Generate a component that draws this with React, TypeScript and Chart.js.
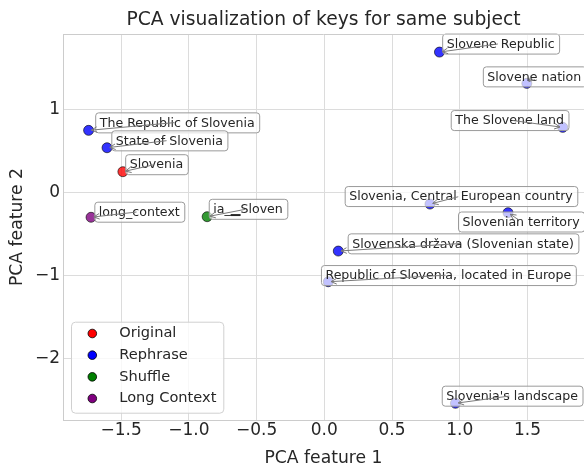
import React, { useEffect, useRef } from "react";
import { Chart, registerables } from "chart.js";

Chart.register(...registerables);

// ---------------- data ----------------
const seriesNames = ["Original", "Rephrase", "Shuffle", "Long Context"];
const seriesColors = ["#ff0000", "#0000ff", "#008000", "#800080"];
const seriesFill = ["rgba(255,0,0,0.8)", "rgba(0,0,255,0.8)", "rgba(0,128,0,0.8)", "rgba(128,0,128,0.8)"];

const originalLabels = ["Slovenia"];
const originalX = [-1.487];
const originalY = [0.248];

const rephraseLabels = [
  "The Republic of Slovenia",
  "State of Slovenia",
  "Slovene Republic",
  "Slovene nation",
  "The Slovene land",
  "Slovenia, Central European country",
  "Slovenian territory",
  "Slovenska država (Slovenian state)",
  "Republic of Slovenia, located in Europe",
  "Slovenia's landscape",
];
const rephraseX = [-1.74, -1.604, 0.85, 1.495, 1.76, 0.78, 1.356, 0.103, 0.029, 0.968];
const rephraseY = [0.745, 0.536, 1.686, 1.31, 0.781, -0.141, -0.245, -0.706, -1.075, -2.536];

const shuffleLabels = ["ia_\u2581Sloven"];
const shuffleX = [-0.865];
const shuffleY = [-0.293];

const longContextLabels = ["long_context"];
const longContextX = [-1.722];
const longContextY = [-0.3];

const xTicks = [-1.5, -1.0, -0.5, 0.0, 0.5, 1.0, 1.5];
const yTicks = [-2, -1, 0, 1];
const xRange = [-1.929, 1.917];
const yRange = [-2.737, 1.903];

const titleText = "PCA visualization of keys for same subject";
const xTitle = "PCA feature 1";
const yTitle = "PCA feature 2";

// label box placement (pixel offset of box-left / box-centre from its point)
const labelOffsets: Record<string, [number, number]> = {
  "Slovenia": [2.3, -7.5],
  "The Republic of Slovenia": [6.6, -8],
  "State of Slovenia": [4.3, -7.4],
  "Slovene Republic": [2.7, -8.5],
  "Slovene nation": [-44, -7],
  "The Slovene land": [-112, -7.3],
  "Slovenia, Central European country": [-85.3, -8],
  "Slovenian territory": [-50, 8.8],
  "Slovenska država (Slovenian state)": [9.4, -7.7],
  "Republic of Slovenia, located in Europe": [-7.3, -6.7],
  "Slovenia's landscape": [-13.7, -7.6],
  "ia_\u2581Sloven": [1.6, -7.9],
  "long_context": [3.3, -5.6],
};

const TEXT = "#262626";
const FONT = "'DejaVu Sans', sans-serif";

const minusFmt = (s: string) => s.replace("-", "\u2212");

const annotatePlugin = {
  id: "annotate",
  afterDatasetsDraw(chart: any) {
    const ctx = chart.ctx as CanvasRenderingContext2D;
    const labelSets = chart.options.plugins.annotate.labels as string[][];
    const items: any[] = [];
    ctx.save();
    ctx.font = `12.6px ${FONT}`;
    chart.data.datasets.forEach((_ds: any, di: number) => {
      const meta = chart.getDatasetMeta(di);
      meta.data.forEach((el: any, i: number) => {
        const text = labelSets[di][i];
        const off = labelOffsets[text] || [4, -8];
        const w = ctx.measureText(text).width + 9;
        const h = 20;
        const left = el.x + off[0];
        const cy = el.y + off[1];
        items.push({ text, px: el.x, py: el.y, left, cy, w, h });
      });
    });
    // boxes + text
    items.forEach((it) => {
      ctx.beginPath();
      (ctx as any).roundRect(it.left + 0.5, it.cy - it.h / 2 + 0.5, it.w, it.h, 3);
      ctx.fillStyle = "rgba(255,255,255,0.7)";
      ctx.fill();
      ctx.strokeStyle = "#9a9a9a";
      ctx.lineWidth = 1;
      ctx.stroke();
      ctx.fillStyle = TEXT;
      ctx.textBaseline = "middle";
      ctx.textAlign = "left";
      ctx.fillText(it.text, it.left + 4.5, it.cy + 1);
    });
    // arrows (from text centre to point)
    items.forEach((it) => {
      const sx = it.left + it.w / 2;
      const sy = it.cy;
      const dx = it.px - sx;
      const dy = it.py - sy;
      const L = Math.hypot(dx, dy);
      if (L < 7) return;
      const ux = dx / L;
      const uy = dy / L;
      const shrink = 2.8;
      const ax = sx + ux * shrink;
      const ay = sy + uy * shrink;
      const bx = it.px - ux * shrink;
      const by = it.py - uy * shrink;
      ctx.strokeStyle = "#7a7a7a";
      ctx.lineWidth = 1;
      ctx.beginPath();
      ctx.moveTo(ax, ay);
      ctx.lineTo(bx, by);
      const hl = 5.6;
      const hw = 2.8;
      ctx.moveTo(bx - ux * hl - uy * hw, by - uy * hl + ux * hw);
      ctx.lineTo(bx, by);
      ctx.lineTo(bx - ux * hl + uy * hw, by - uy * hl - ux * hw);
      ctx.stroke();
    });
    ctx.restore();
  },
};

const framePlugin = {
  id: "frameAndLegend",
  afterDraw(chart: any) {
    const ctx = chart.ctx as CanvasRenderingContext2D;
    const ca = chart.chartArea;
    ctx.save();
    // top spine
    ctx.strokeStyle = "#cccccc";
    ctx.lineWidth = 1;
    ctx.beginPath();
    ctx.moveTo(ca.left, Math.round(ca.top) + 0.5);
    ctx.lineTo(ca.right, Math.round(ca.top) + 0.5);
    ctx.stroke();

    // legend (lower left, inside axes)
    const bw = 152.3;
    const bh = 91;
    const bx = ca.left + 8;
    const by = ca.bottom - 7.3 - bh;
    ctx.beginPath();
    (ctx as any).roundRect(bx + 0.5, by + 0.5, bw, bh, 4);
    ctx.fillStyle = "rgba(255,255,255,0.8)";
    ctx.fill();
    ctx.strokeStyle = "#d0d0d0";
    ctx.stroke();
    ctx.font = `14.6px ${FONT}`;
    ctx.textBaseline = "middle";
    ctx.textAlign = "left";
    chart.data.datasets.forEach((ds: any, i: number) => {
      const y = by + 11.8 + i * 21.67;
      ctx.beginPath();
      ctx.arc(bx + 21.3, y, 4.3, 0, Math.PI * 2);
      ctx.fillStyle = ds.legendColor;
      ctx.fill();
      ctx.strokeStyle = "#000000";
      ctx.lineWidth = 0.8;
      ctx.stroke();
      ctx.fillStyle = TEXT;
      ctx.fillText(ds.label, bx + 48.3, y);
    });
    ctx.restore();
  },
};

export default function App() {
  const ref = useRef<HTMLCanvasElement | null>(null);

  useEffect(() => {
    if (!ref.current) return;
    const xs = [originalX, rephraseX, shuffleX, longContextX];
    const ys = [originalY, rephraseY, shuffleY, longContextY];
    const labelSets = [originalLabels, rephraseLabels, shuffleLabels, longContextLabels];
    const datasets = seriesNames.map((name, si) => ({
      label: name,
      data: xs[si].map((x, i) => ({ x, y: ys[si][i] })),
      backgroundColor: seriesFill[si],
      borderColor: "rgba(0,0,0,0.75)",
      borderWidth: 0.8,
      pointRadius: 5,
      pointHoverRadius: 5,
      legendColor: seriesColors[si],
    }));

    const chart = new Chart(ref.current, {
      type: "scatter",
      data: { datasets } as any,
      options: {
        responsive: false,
        animation: false,
        devicePixelRatio: 1,
        layout: { padding: 0, autoPadding: false },
        plugins: {
          legend: { display: false },
          tooltip: { enabled: false },
          title: {
            display: true,
            fullSize: false,
            text: titleText,
            color: TEXT,
            font: { family: FONT, size: 18.7, weight: "normal", lineHeight: 1.2 },
            padding: { top: 8.8, bottom: 2.8 },
          },
          annotate: { labels: labelSets },
        } as any,
        scales: {
          x: {
            type: "linear",
            min: xRange[0],
            max: xRange[1],
            afterBuildTicks: (scale: any) => {
              scale.ticks = xTicks.map((v) => ({ value: v }));
            },
            afterFit: (scale: any) => {
              scale.height = 47;
              scale.paddingLeft = 0;
              scale.paddingRight = 0;
            },
            ticks: {
              color: TEXT,
              font: { family: FONT, size: 17 },
              padding: 0.8,
              maxRotation: 0,
              autoSkip: false,
              callback: (v: any) => minusFmt(Number(v).toFixed(1)),
            },
            grid: { color: "#dcdcdc", lineWidth: 1, drawTicks: false },
            border: { color: "#cccccc", width: 1 },
            title: {
              display: true,
              text: xTitle,
              color: TEXT,
              font: { family: FONT, size: 17.2, lineHeight: 1 },
              padding: { top: 0, bottom: 0 },
            },
          },
          y: {
            type: "linear",
            min: yRange[0],
            max: yRange[1],
            afterBuildTicks: (scale: any) => {
              scale.ticks = yTicks.map((v) => ({ value: v }));
            },
            afterFit: (scale: any) => {
              scale.width = 63;
              scale.paddingTop = 0;
              scale.paddingBottom = 0;
            },
            ticks: {
              color: TEXT,
              font: { family: FONT, size: 17 },
              padding: 3,
              autoSkip: false,
              callback: (v: any) => minusFmt(String(Math.round(Number(v)))),
            },
            grid: { color: "#dcdcdc", lineWidth: 1, drawTicks: false },
            border: { color: "#cccccc", width: 1 },
            title: {
              display: true,
              text: yTitle,
              color: TEXT,
              font: { family: FONT, size: 17.2, lineHeight: 1 },
              padding: { top: 8.9, bottom: 0 },
            },
          },
        },
      } as any,
      plugins: [annotatePlugin, framePlugin],
    });
    return () => chart.destroy();
  }, []);

  return (
    <div style={{ position: "absolute", left: 0, top: 0, width: 584, height: 467 }}>
      <canvas ref={ref} width={584} height={467} style={{ display: "block" }} />
    </div>
  );
}
